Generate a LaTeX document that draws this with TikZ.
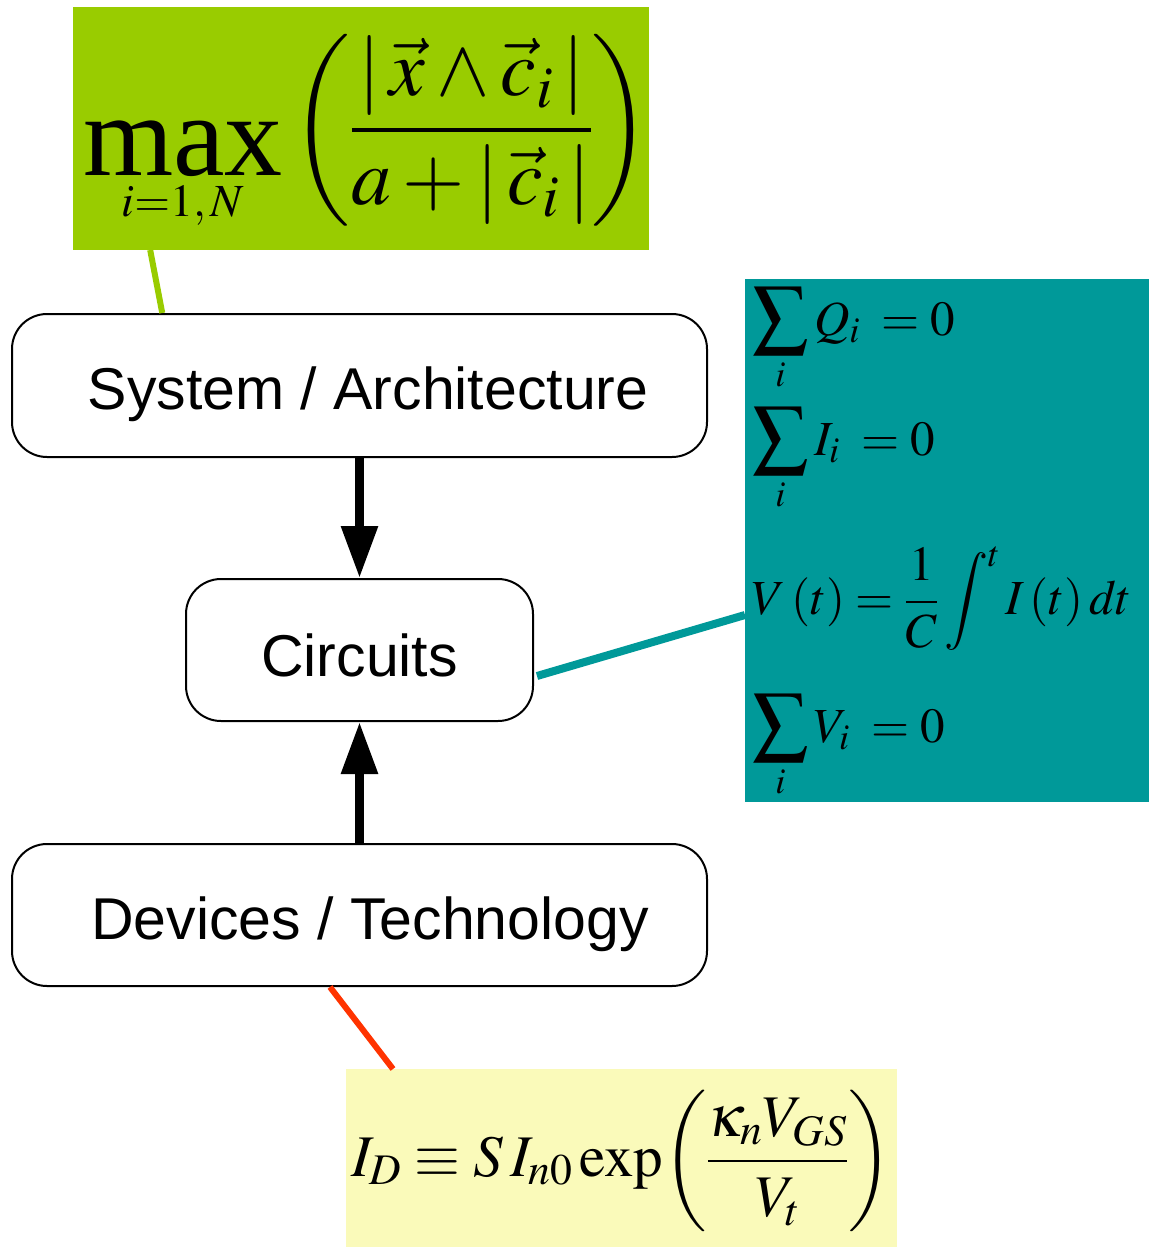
\documentclass[tikz,border=0pt]{standalone}
\usepackage{mathptmx}
\usepackage[no-math]{fontspec}
\setmainfont{Liberation Serif}
\newfontfamily\labelfont{Liberation Sans}
\usepackage{graphicx}
\usetikzlibrary{arrows.meta,calc}
\definecolor{limegreen}{HTML}{99CC00}
\definecolor{tealbox}{HTML}{009999}
\definecolor{paleyellow}{HTML}{FAFABA}
\definecolor{redline}{HTML}{FF3300}
\newsavebox\maxopbox
\newcommand{\bigsum}{\mathop{\hbox{\fontsize{55}{60}\selectfont$\displaystyle\sum$}}\limits_{i}}
\tikzset{
  layerbox/.style={draw=black, line width=2pt, rounded corners=35pt, fill=white,
    inner sep=0pt, font=\labelfont\fontsize{59}{66}\selectfont, text height=48pt, text depth=0pt},
  flowarrow/.style={line width=9pt, -{Triangle[width=35pt,length=52pt]}},
  eqbox/.style={inner sep=0pt, outer sep=0pt},
  eqtext/.style={inner sep=0pt, anchor=base west, font=\fontsize{49}{58}\selectfont},
}
\begin{document}
\begin{tikzpicture}[x=1pt,y=-1pt]
\useasboundingbox (0,0) rectangle (1149,1247);

% layer boxes
\node[layerbox, minimum width=695pt, minimum height=143pt] (sys) at (359.5,385.5)
  {\hspace*{17pt}System / Architecture};
\node[layerbox, minimum width=347pt, minimum height=142pt, text height=52pt] (circ) at (359.5,650)
  {Circuits};
\node[layerbox, minimum width=695pt, minimum height=142pt] (dev) at (359.5,915)
  {\hspace*{21pt}Devices / Technology};

% formula boxes
\node[eqbox, fill=limegreen, minimum width=576pt, minimum height=243pt,
      text height=43pt, text depth=0pt, font=\fontsize{80}{94}\selectfont] (grn) at (361,128.5)
  {\makebox[0pt]{\hspace*{12pt}\sbox\maxopbox{\fontsize{116}{124}\selectfont max}%
   $\displaystyle
   \mathop{\raisebox{-25pt}{\usebox\maxopbox}\llap{\makebox[\wd\maxopbox]{\raisebox{-66pt}{\fontsize{46}{50}\selectfont$i{=}1,N$}}}}
   \left(\frac{|\,\vec{x}\wedge\vec{c}_{i}\,|}{a+|\,\vec{c}_{i}\,|}\right)$}};

\node[eqbox, fill=tealbox, minimum width=404pt, minimum height=523pt] (teal) at (947,540.5) {};
\node[eqtext] (eqQ) at (752,335) {$\bigsum Q_{i}\;=0$};
\node[eqtext] (eqI) at (752,455) {$\bigsum I_{i}\;=0$};
\node[eqtext] (eqV) at (752,614) {$V\,(t)=\displaystyle\frac{1}{C}\int^{t} I\,(t)\,dt$};
\node[eqtext] (eqVs) at (752,742) {$\bigsum V_{i}\;=0$};

\node[eqbox, fill=paleyellow, minimum width=551pt, minimum height=178pt,
      text height=36pt, text depth=0pt, font=\fontsize{59}{70}\selectfont] (yel) at (621.5,1158)
  {\makebox[0pt]{$\displaystyle
   I_{D}\equiv S\,I_{n0}\,\mathrm{exp}\!\left(\rule[-0.95em]{0pt}{2.4em}\frac{\kappa_{n}V_{GS}}{V_{t}}\right)$}};

% hierarchy arrows
\draw[flowarrow] (sys.south) -- (circ.north);
\draw[flowarrow] (dev.north) -- (circ.south);

% connectors to formulas
\draw[limegreen, line width=6pt]
  ($(grn.south west)!0.134!(grn.south east)$) -- ($(sys.north west)!0.217!(sys.north east)$);
\draw[tealbox, line width=8pt]
  ($(circ.east)+(3,26)$) -- ($(teal.west)+(0,74.5)$);
\draw[redline, line width=6pt]
  ($(dev.south west)!0.4576!(dev.south east)$) -- ($(yel.north west)!0.0853!(yel.north east)$);
\end{tikzpicture}
\end{document}
